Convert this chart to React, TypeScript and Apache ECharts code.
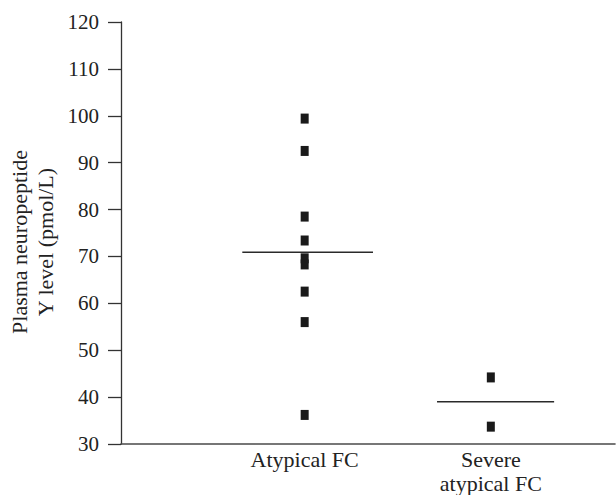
import React, { useEffect, useRef } from "react";
import * as echarts from "echarts";

const categories = ["Atypical FC", "Severe\natypical FC"];
const categoryPositions = [1, 2];
const atypicalValues = [99.4, 92.5, 78.5, 73.4, 69.6, 68.3, 62.5, 56.0, 36.2];
const severeValues = [44.2, 33.7];
const meanValues = [70.9, 39.0];
const meanLineLeft = [0.335, 0.289];
const meanLineRight = [0.367, 0.34];
const yTicks = [30, 40, 50, 60, 70, 80, 90, 100, 110, 120];

const FONT = "'Liberation Serif', 'Times New Roman', serif";

export default function App() {
  const ref = useRef<HTMLDivElement>(null);
  useEffect(() => {
    if (!ref.current) return;
    const chart = echarts.init(ref.current, undefined, { renderer: "svg" });
    const markerStyle = {
      type: "scatter",
      symbol: "rect",
      symbolSize: [8, 10],
      itemStyle: { color: "#1a1a1a", opacity: 1 },
      silent: true,
    };
    const meanSeries = meanValues.map((m, i) => ({
      type: "line",
      data: [
        [categoryPositions[i] - meanLineLeft[i], m],
        [categoryPositions[i] + meanLineRight[i], m],
      ],
      symbol: "none",
      lineStyle: { color: "#2a2a2a", width: 1.5 },
      silent: true,
    }));
    chart.setOption({
      animation: false,
      grid: { left: 121, right: 1, top: 22, bottom: 49, containLabel: false },
      xAxis: {
        type: "value",
        min: 0.0134,
        max: 2.667,
        axisLine: { show: true, onZero: false, lineStyle: { color: "#4a4a4a", width: 1.6 } },
        axisTick: { show: false },
        splitLine: { show: false },
        axisLabel: {
          customValues: categoryPositions,
          formatter: (v: number) => categories[Math.round(v) - 1] ?? "",
          fontFamily: FONT,
          fontSize: 22,
          lineHeight: 24,
          color: "#222",
          margin: 3,
          align: "center",
          verticalAlign: "top",
        },
      },
      yAxis: {
        type: "value",
        min: yTicks[0],
        max: yTicks[yTicks.length - 1],
        interval: 10,
        axisLine: { show: true, lineStyle: { color: "#333", width: 1.3 } },
        axisTick: { show: true, inside: false, length: 13, lineStyle: { color: "#333", width: 1.3 } },
        splitLine: { show: false },
        axisLabel: {
          fontFamily: FONT,
          fontSize: 21,
          color: "#222",
          margin: 22,
        },
      },
      graphic: [
        {
          type: "text",
          x: 32,
          y: 242,
          rotation: Math.PI / 2,
          style: {
            text: "Plasma neuropeptide\nY level (pmol/L)",
            fontFamily: FONT,
            fontSize: 22,
            lineHeight: 26,
            fill: "#222",
            align: "center",
            verticalAlign: "middle",
          },
        },
      ],
      series: [
        ...meanSeries,
        { ...markerStyle, data: atypicalValues.map((v) => [categoryPositions[0], v]) },
        { ...markerStyle, data: severeValues.map((v) => [categoryPositions[1], v]) },
      ],
    });
    return () => chart.dispose();
  }, []);
  return <div ref={ref} style={{ width: 616, height: 495, position: "absolute", left: 0, top: 0 }} />;
}
